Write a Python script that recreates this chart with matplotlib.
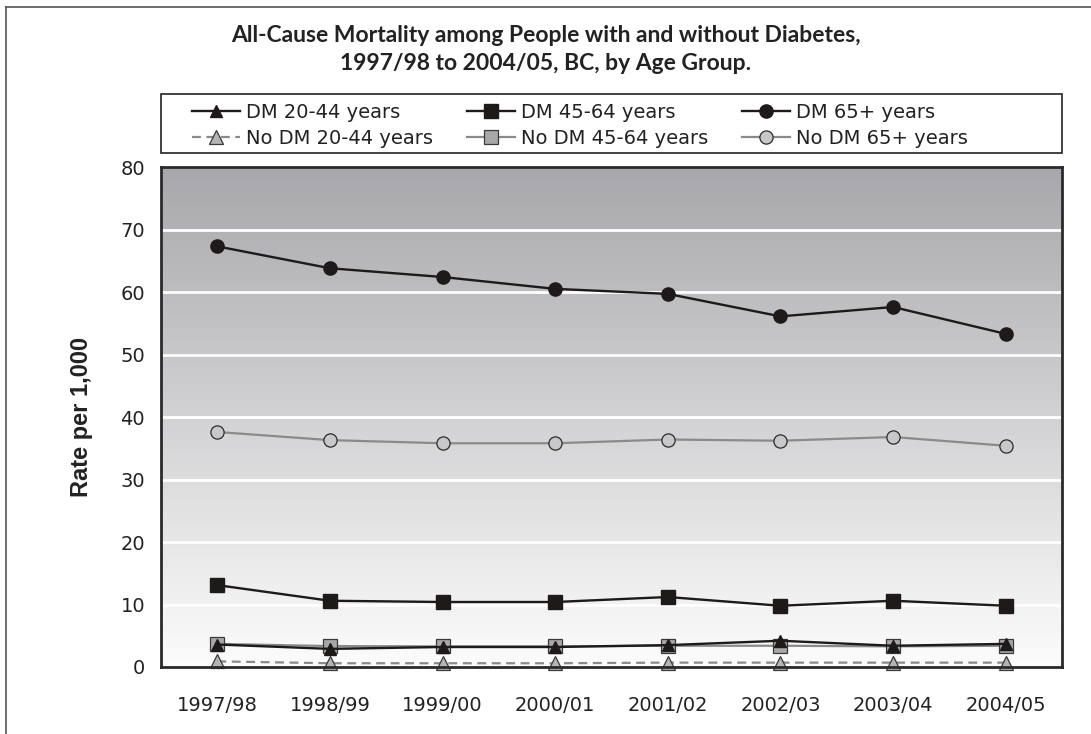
import numpy as np
import matplotlib
matplotlib.use("Agg")
import matplotlib.pyplot as plt
from matplotlib.lines import Line2D
from matplotlib.patches import Rectangle

# Chart values
years = ["1997/98", "1998/99", "1999/00", "2000/01",
         "2001/02", "2002/03", "2003/04", "2004/05"]
dm_20_44 = [3.6, 2.9, 3.2, 3.2, 3.5, 4.2, 3.4, 3.7]
dm_45_64 = [13.1, 10.6, 10.4, 10.4, 11.2, 9.8, 10.6, 9.8]
dm_65 = [67.3, 63.8, 62.4, 60.5, 59.7, 56.1, 57.6, 53.3]
nodm_20_44 = [0.9, 0.6, 0.6, 0.6, 0.7, 0.7, 0.7, 0.7]
nodm_45_64 = [3.7, 3.35, 3.3, 3.3, 3.4, 3.4, 3.3, 3.4]
nodm_65 = [37.6, 36.3, 35.8, 35.8, 36.4, 36.2, 36.8, 35.4]
y_ticks = [0, 10, 20, 30, 40, 50, 60, 70, 80]

TICK_FONT = "DejaVu Sans"
TITLE_FONT = "Lato"
LABEL_FONT = "Liberation Sans"

fig = plt.figure(figsize=(10.91, 7.34), dpi=100)
ax = fig.add_axes([161 / 1091, 1 - 667 / 734, (1062 - 161) / 1091, (667 - 167) / 734])

x = np.arange(len(years))

# gradient background of the plot area
grad = np.linspace(0, 1, 256).reshape(-1, 1)
top_c = np.array([168, 168, 172]) / 255
bot_c = np.array([252, 252, 252]) / 255
img = bot_c[None, None, :] * (1 - grad[:, :, None]) + top_c[None, None, :] * grad[:, :, None]
ax.imshow(img, extent=[0, 1, 0, 1], transform=ax.transAxes, aspect="auto",
          origin="lower", zorder=0)

for t in y_ticks[1:-1]:
    ax.axhline(t, color="white", lw=2, zorder=1)

series = [
    (nodm_20_44, dict(color="#8a8a8a", ls=(0, (4, 2.5)), lw=1.6, marker="^", ms=9.5,
                      mfc="#b4b4b4", mec="#3a3a3a", mew=0.9)),
    (nodm_45_64, dict(color="#8a8a8a", ls="-", lw=1.6, marker="s", ms=10,
                      mfc="#a8a8a8", mec="#3a3a3a", mew=0.9)),
    (nodm_65, dict(color="#8a8a8a", ls="-", lw=1.6, marker="o", ms=9.5,
                   mfc="#c8c8ca", mec="#2a2a2a", mew=0.9)),
    (dm_20_44, dict(color="#1e1a1a", ls="-", lw=1.7, marker="^", ms=9,
                    mfc="#1e1a1a", mec="#1e1a1a")),
    (dm_45_64, dict(color="#1e1a1a", ls="-", lw=1.7, marker="s", ms=10.5,
                    mfc="#1e1a1a", mec="#1e1a1a")),
    (dm_65, dict(color="#1e1a1a", ls="-", lw=1.7, marker="o", ms=9.5,
                 mfc="#1e1a1a", mec="#1e1a1a")),
]
for vals, st in series:
    ax.plot(x, vals, zorder=3, clip_on=False, **st)

ax.set_xlim(-0.5, len(years) - 0.5)
ax.set_ylim(0, 80)
ax.set_xticks(x)
ax.set_xticklabels(years, fontfamily=TICK_FONT, fontsize=14, color="#222222")
ax.set_yticks(y_ticks)
ax.set_yticklabels([str(t) for t in y_ticks], fontfamily=TICK_FONT,
                   fontsize=14, color="#222222")
ax.tick_params(length=0)
ax.tick_params(axis="x", pad=21)
ax.tick_params(axis="y", pad=11.5)
for s in ax.spines.values():
    s.set_color("#2a2a2a")
    s.set_linewidth(2)
    s.set_zorder(4)

ax.set_ylabel("Rate per 1,000", fontfamily=LABEL_FONT, fontweight="bold",
              fontsize=17, color="#222222")
ax.yaxis.set_label_coords((93 - 161) / 901, 0.5)

# legend: frame spans the plot width, entries packed from the left
ax.add_patch(Rectangle((0, (667 - 153) / 500), 1, (153 - 94) / 500,
                       transform=ax.transAxes, fill=False, ec="#222222",
                       lw=1.2, clip_on=False))
labels = ["DM 20-44 years", "No DM 20-44 years", "DM 45-64 years",
          "No DM 45-64 years", "DM 65+ years", "No DM 65+ years"]
order = [3, 0, 4, 1, 5, 2]
handles = [Line2D([0], [0], **series[i][1]) for i in order]
leg = ax.legend(handles, labels, ncol=3, loc="upper left",
                bbox_to_anchor=((192 - 161) / 901, (667 - 103) / 500),
                frameon=False, borderpad=0, borderaxespad=0,
                handlelength=2.47, handletextpad=0.31,
                labelspacing=0.37, columnspacing=1.75,
                prop={"family": TICK_FONT, "size": 14})
for t in leg.get_texts():
    t.set_color("#222222")

fig.text(0.5, 1 - 36 / 734,
         "All-Cause Mortality among People with and without Diabetes,",
         ha="center", va="center", fontfamily=TITLE_FONT, fontweight="bold",
         fontsize=16.5, color="#222222")
fig.text(0.5, 1 - 64 / 734, "1997/98 to 2004/05, BC, by Age Group.",
         ha="center", va="center", fontfamily=TITLE_FONT, fontweight="bold",
         fontsize=16.5, color="#222222")

# outer frame (top and left edges only visible)
fig.add_artist(Line2D([6 / 1091, 1], [1 - 7 / 734, 1 - 7 / 734],
                      transform=fig.transFigure, color="#555555", lw=1.2))
fig.add_artist(Line2D([6 / 1091, 6 / 1091], [0, 1 - 7 / 734],
                      transform=fig.transFigure, color="#555555", lw=1.2))

fig.savefig("out.png", dpi=100)
